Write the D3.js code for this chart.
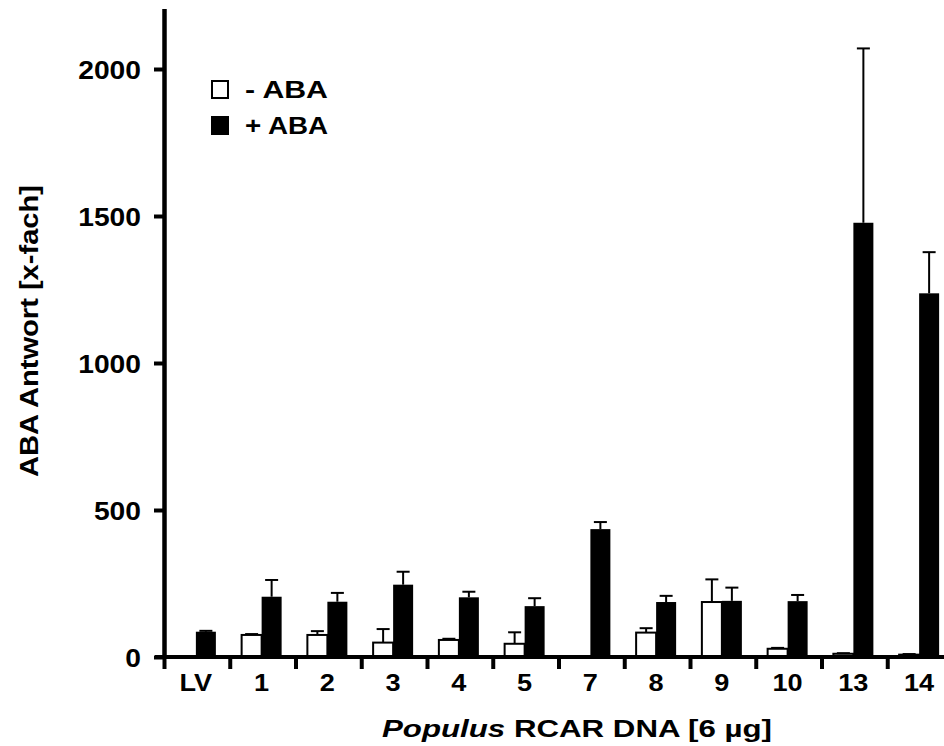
<!DOCTYPE html>
<html>
<head>
<meta charset="utf-8">
<script src="https://cdn.jsdelivr.net/npm/d3@7"></script>
<style>
  body { margin: 0; background: #fff; }
  svg text { font-family: "Liberation Sans", Arial, Helvetica, sans-serif; font-weight: bold; fill: #000; }
</style>
</head>
<body>
<div id="chart"></div>
<script>
/*  Data  */
var categories = ["LV", "1", "2", "3", "4", "5", "7", "8", "9", "10", "13", "14"];
var minusABA     = [0, 75, 75, 49, 58, 45, 0, 83, 187, 28, 11, 8];
var minusABA_err = [0, 3, 13, 46, 4, 39, 0, 15, 77, 3, 2, 2];
var plusABA      = [86, 205, 188, 246, 203, 173, 435, 187, 191, 190, 1477, 1237];
var plusABA_err  = [3, 57, 30, 44, 19, 27, 24, 21, 45, 21, 593, 140];
var yTicks = [0, 500, 1000, 1500, 2000];
var legendLabels = ["- ABA", "+ ABA"];


/*  Setup  */
var W = 944, H = 746;
var svg = d3.select("#chart").append("svg")
            .attr("xmlns", "http://www.w3.org/2000/svg")
            .attr("width", W)
            .attr("height", H);

var x0 = 163, bandW = 65.75;
var x = d3.scaleBand()
          .domain(categories)
          .range([x0, x0 + bandW * categories.length])
          .paddingInner(0).paddingOuter(0);
var y = d3.scaleLinear().domain([0, 2000]).range([657, 69]);
var barW = 20;
var stretch = 1.13;   // the original lettering is a bit wider than Liberation Sans

var rows = categories.map(function(c, i){
  return { cat: c, lo: minusABA[i], loErr: minusABA_err[i], hi: plusABA[i], hiErr: plusABA_err[i] };
});


/*  Bars  */
// white (- ABA) bars, only where there is something to draw
svg.selectAll("rect.minus")
   .data(rows.filter(function(d){ return d.lo > 0; }))
   .enter().append("rect")
   .attr("class", "minus")
   .attr("x", function(d){ return x(d.cat) + x.bandwidth()/2 - barW; })
   .attr("y", function(d){ return y(d.lo); })
   .attr("width", barW)
   .attr("height", function(d){ return y(0) - y(d.lo); })
   .attr("fill", "#fff")
   .attr("stroke", "#000")
   .attr("stroke-width", 2);

svg.selectAll("rect.plus")
   .data(rows)
   .enter().append("rect")
   .attr("class", "plus")
   .attr("x", function(d){ return x(d.cat) + x.bandwidth()/2; })
   .attr("y", function(d){ return y(d.hi); })
   .attr("width", barW)
   .attr("height", function(d){ return y(0) - y(d.hi); })
   .attr("fill", "#000");


/*  Error bars (upper only)  */
function errBars(cls, data, val, err, offset){
  var g = svg.selectAll("g." + cls)
             .data(data)
             .enter().append("g")
             .attr("class", cls)
             .attr("stroke", "#000")
             .attr("stroke-width", 2);
  g.append("line")
   .attr("x1", function(d){ return x(d.cat) + x.bandwidth()/2 + offset; })
   .attr("x2", function(d){ return x(d.cat) + x.bandwidth()/2 + offset; })
   .attr("y1", function(d){ return y(val(d)); })
   .attr("y2", function(d){ return y(val(d) + err(d)); });
  g.append("line")
   .attr("x1", function(d){ return x(d.cat) + x.bandwidth()/2 + offset - 6.5; })
   .attr("x2", function(d){ return x(d.cat) + x.bandwidth()/2 + offset + 6.5; })
   .attr("y1", function(d){ return y(val(d) + err(d)); })
   .attr("y2", function(d){ return y(val(d) + err(d)); });
}
errBars("err-minus", rows.filter(function(d){ return d.lo > 0; }),
        function(d){ return d.lo; }, function(d){ return d.loErr; }, -barW/2);
errBars("err-plus", rows,
        function(d){ return d.hi; }, function(d){ return d.hiErr; }, barW/2);


/*  Axes  */
var yAxis = svg.append("g")
               .attr("transform", "translate(" + x0 + ",0)")
               .call(d3.axisLeft(y).tickValues(yTicks).tickSize(9).tickPadding(13).tickFormat(d3.format("d")));
yAxis.select(".domain").remove();
yAxis.selectAll(".tick line").attr("stroke-width", 4);
yAxis.selectAll(".tick text")
     .attr("font-size", 25)
     .attr("x", -22 / stretch)
     .attr("dy", "0.36em")
     .attr("transform", "scale(" + stretch + ",1)");
svg.append("line")
   .attr("x1", x0 + 1.5).attr("x2", x0 + 1.5)
   .attr("y1", 9).attr("y2", 659)
   .attr("stroke", "#000").attr("stroke-width", 4.5);

// baseline
svg.append("line")
   .attr("x1", 155).attr("x2", W)
   .attr("y1", 657).attr("y2", 657)
   .attr("stroke", "#000").attr("stroke-width", 4);

// category boundary ticks
var bounds = categories.map(function(c){ return x(c); }).concat([x0 + bandW * categories.length]);
svg.selectAll("line.xtick")
   .data(bounds)
   .enter().append("line")
   .attr("class", "xtick")
   .attr("x1", function(d){ return d + 1.5; })
   .attr("x2", function(d){ return d + 1.5; })
   .attr("y1", 657).attr("y2", 669)
   .attr("stroke", "#000").attr("stroke-width", 4);

var xAxis = svg.append("g")
               .attr("transform", "translate(0,657)")
               .call(d3.axisBottom(x).tickSize(0).tickPadding(17));
xAxis.select(".domain").remove();
xAxis.selectAll(".tick text")
     .attr("font-size", 24)
     .attr("transform", "scale(" + stretch + ",1)");


/*  Titles  */
svg.append("text")
   .attr("transform", "translate(38,331) rotate(-90)")
   .attr("text-anchor", "middle")
   .attr("font-size", 26)
   .attr("textLength", 292)
   .attr("lengthAdjust", "spacingAndGlyphs")
   .text("ABA Antwort [x-fach]");

var xt = svg.append("text")
            .attr("x", 382).attr("y", 737)
            .attr("font-size", 24)
            .attr("textLength", 390)
            .attr("lengthAdjust", "spacingAndGlyphs");
xt.append("tspan").attr("font-style", "italic").text("Populus");
xt.append("tspan").text(" RCAR DNA [6 µg]");


/*  Legend  */
var legendFills = ["#fff", "#000"];
legendLabels.forEach(function(label, i){
  svg.append("rect")
     .attr("x", 212).attr("y", 81 + i * 36)
     .attr("width", 16).attr("height", 17)
     .attr("fill", legendFills[i])
     .attr("stroke", "#000").attr("stroke-width", 2);
  svg.append("text")
     .attr("x", 245).attr("y", 98 + i * 36)
     .attr("font-size", 23)
     .attr("textLength", 83)
     .attr("lengthAdjust", "spacingAndGlyphs")
     .text(label);
});
</script>
</body>
</html>
